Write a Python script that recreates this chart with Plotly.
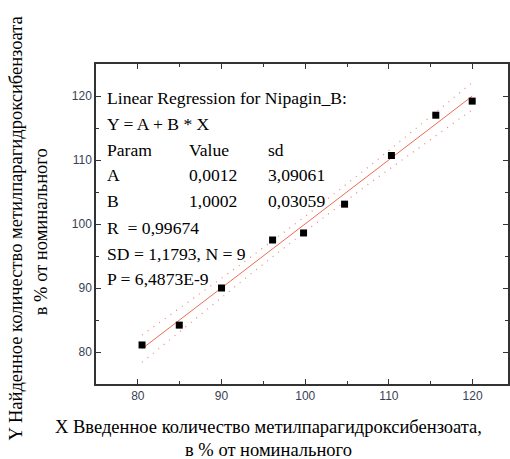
import numpy as np
import plotly.graph_objects as go

# ---- data ----
x_vals = [80.5, 84.95, 90.0, 96.1, 99.8, 104.7, 110.3, 115.6, 119.95]
y_vals = [81.1, 84.2, 90.0, 97.5, 98.6, 103.1, 110.7, 117.0, 119.2]
param_A = 0.0012
param_B = 1.0002
SD = 1.1793
N = 9
band_t = 2.97  # band level

x_ticks = [80, 90, 100, 110, 120]
y_ticks = [80, 90, 100, 110, 120]

info_lines = [
    ["Linear Regression for Nipagin_B:"],
    ["Y = A + B * X"],
    ["Param", "Value", "sd"],
    ["A", "0,0012", "3,09061"],
    ["B", "1,0002", "0,03059"],
    ["R  = 0,99674"],
    ["SD = 1,1793, N = 9"],
    ["P = 6,4873E-9"],
]
x_title = ["X Введенное количество метилпарагидроксибензоата,", "в % от номинального"]
y_title = ["Y Найденное количество метилпарагидроксибензоата", "в % от номинального"]

# ---- layout geometry (pixels) ----
W, H = 510, 459
L, R, T, B = 96, 0, 64, 75
PW, PH = W - L - R, H - T - B

def px(xp):
    return (xp - L) / PW

def py(yp):
    return (H - B - yp) / PH

# ---- derived fit curves ----
xa = np.array(x_vals)
xm = xa.mean()
sxx = ((xa - xm) ** 2).sum()
xfit = np.linspace(xa.min(), xa.max(), 60)
yfit = param_A + param_B * xfit
half = band_t * SD * np.sqrt(1.0 / N + (xfit - xm) ** 2 / sxx)

fig = go.Figure()
line_col = "#ef6a50"
band_col = "#f08c7c"
fig.add_trace(go.Scatter(x=xfit, y=yfit + half, mode="lines",
                         line=dict(color=band_col, width=1.3, dash="1px,6px"), hoverinfo="skip"))
fig.add_trace(go.Scatter(x=xfit, y=yfit - half, mode="lines",
                         line=dict(color=band_col, width=1.3, dash="1px,6px"), hoverinfo="skip"))
fig.add_trace(go.Scatter(x=[xfit[0], xfit[-1]], y=[yfit[0], yfit[-1]], mode="lines",
                         line=dict(color=line_col, width=1)))
fig.add_trace(go.Scatter(x=x_vals, y=y_vals, mode="markers",
                         marker=dict(symbol="square", size=7, color="black")))

axis_common = dict(
    showgrid=False, zeroline=False, showline=True, linecolor="#333333", linewidth=1.5,
    ticks="inside", ticklen=5, tickwidth=1.2, tickcolor="#333333", mirror="ticks",
    tickfont=dict(family="Liberation Sans", size=12, color="#3a3f55"),
    minor=dict(ticks="inside", ticklen=3, tickwidth=1, tickcolor="#333333", dtick=5),
    dtick=10,
)
fig.update_xaxes(range=[75, 75 + PW / 8.41], tickvals=x_ticks, **axis_common)
fig.update_yaxes(range=[75, 125], tickvals=y_ticks, **axis_common)

serif = "Liberation Serif"
ann = []
row_y = [98.3, 124, 149.5, 175, 200.7, 227.5, 254, 279.3]
col_x = [105, 187, 266.5]
for row, yp in zip(info_lines, row_y):
    for txt, xp in zip(row, col_x):
        ann.append(dict(x=px(xp), y=py(yp), xref="paper", yref="paper", text=txt,
                        showarrow=False, xanchor="left", yanchor="middle",
                        font=dict(family=serif, size=17.6, color="black")))
# axis titles
tsize = 18.5
ann.append(dict(x=px(269.5), y=py(427), xref="paper", yref="paper", text=x_title[0],
                showarrow=False, xanchor="center", yanchor="middle",
                font=dict(family=serif, size=tsize, color="black")))
ann.append(dict(x=px(269), y=py(450), xref="paper", yref="paper", text=x_title[1],
                showarrow=False, xanchor="center", yanchor="middle",
                font=dict(family=serif, size=tsize, color="black")))
ann.append(dict(x=px(16), y=py(228), xref="paper", yref="paper", text=y_title[0],
                showarrow=False, xanchor="center", yanchor="middle", textangle=-90,
                font=dict(family=serif, size=tsize, color="black")))
ann.append(dict(x=px(41), y=py(232), xref="paper", yref="paper", text=y_title[1],
                showarrow=False, xanchor="center", yanchor="middle", textangle=-90,
                font=dict(family=serif, size=tsize, color="black")))

fig.update_layout(
    width=W, height=H, margin=dict(l=L, r=R, t=T, b=B),
    paper_bgcolor="white", plot_bgcolor="white", showlegend=False,
    annotations=ann,
)
fig.write_html("out.html")
